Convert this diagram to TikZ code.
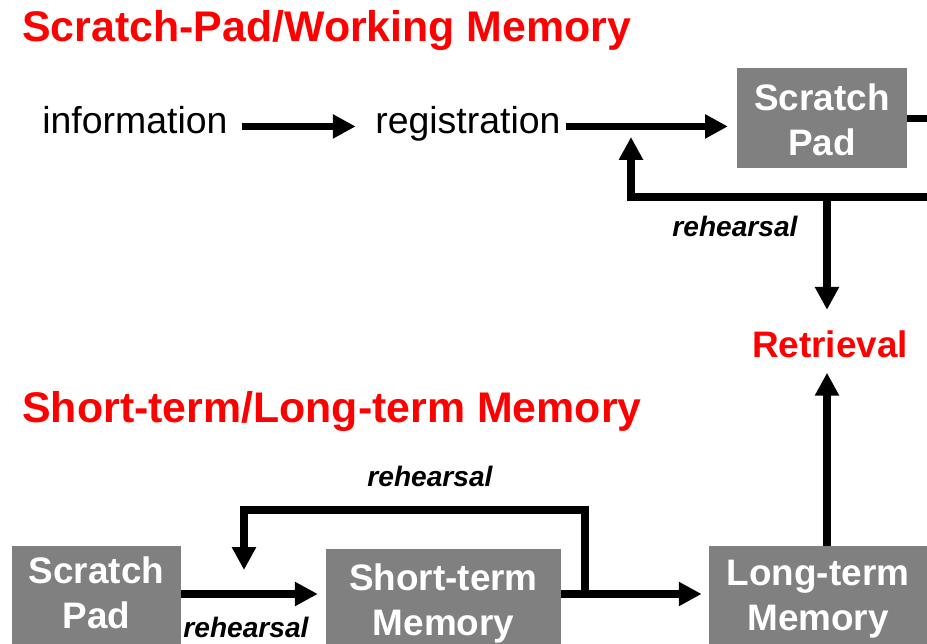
\documentclass[tikz,border=0pt]{standalone}
\usepackage{fontspec}
\setmainfont{Liberation Sans}
\usetikzlibrary{arrows.meta, positioning}

\begin{document}
\begin{tikzpicture}[x=0.02cm, y=-0.02cm,
  flow/.style={line width=4pt, -{Triangle[length=13pt, width=13pt]}},
  wire/.style={line width=4pt},
  membox/.style={fill=boxgray, text=white, inner sep=0pt, align=center,
    font=\fontsize{21}{25.5}\selectfont\bfseries},
  heading/.style={text=titlered, inner sep=0pt, anchor=base west,
    font=\fontsize{24.4}{29}\selectfont\bfseries},
  plain/.style={inner sep=0pt, anchor=base west, text height=15pt, text depth=6.4pt,
    font=\fontsize{21.3}{26}\selectfont},
  note/.style={inner sep=0pt, anchor=base, font=\fontsize{16}{19}\selectfont\bfseries\itshape}]
  % Define colors
  \definecolor{boxgray}{RGB}{128,128,128}
  \definecolor{titlered}{RGB}{255,0,0}

  \useasboundingbox (0,0) rectangle (927,644);
  \clip (0,0) rectangle (927,644);

  % Upper part - Scratch-Pad/Working Memory
  \node[heading] (title1) at (22,42) {Scratch-Pad/Working Memory};
  \node[plain] (info) at (42,134) {information};
  \node[plain] (reg) at (375,134) {registration};
  \node[membox, anchor=north, minimum width=3.4cm, text height=1.74cm, text depth=0.26cm]
    (sp1) at (822,68) {Scratch\\Pad};
  \node[text=titlered, inner sep=0pt, anchor=base, font=\fontsize{21}{25}\selectfont\bfseries]
    (retr) at (830,358) {Retrieval};

  \draw[flow, shorten <=8pt, shorten >=11pt] (info.east) -- (reg.west);
  \draw[flow, shorten <=3pt, shorten >=5pt] (reg.east) -- (reg.east -| sp1.west);
  \draw[wire] (sp1.east) -- ++(40,0);

  % Rehearsal loop back to registration
  \coordinate (fbR) at (960,197);
  \coordinate (fbL) at (631,197);
  \coordinate (fbTip) at (631,137);
  \coordinate (join) at (827,197);
  \draw[flow] (fbR) -- (fbL) -- (fbTip);
  \node[note] (reh1) at (735,237) {rehearsal};
  \draw[flow, shorten >=12pt] (join) -- (join |- retr.north);

  % Lower part - Short-term/Long-term Memory
  \node[heading] (title2) at (22,423) {Short-term/Long-term Memory};
  \node[membox, anchor=north, minimum width=3.38cm, text height=1.64cm, text depth=0.44cm]
    (sp2) at (96.5,546) {Scratch\\Pad};
  \node[membox, anchor=north, minimum width=4.7cm, text height=1.72cm, text depth=0.3cm]
    (st) at (443.5,549) {Short-term\\Memory};
  \node[membox, anchor=north, minimum width=4.36cm, text height=1.68cm, text depth=0.4cm]
    (lt) at (818,546) {Long-term\\Memory};

  \coordinate (row) at (0,594);
  \draw[flow, shorten >=4.5pt] (sp2.east |- row) -- (st.west |- row);
  \draw[flow, shorten >=4pt] (st.east |- row) -- (lt.west |- row);
  \node[note] (reh2) at (246,638) {rehearsal};

  % Rehearsal loop over short-term memory
  \coordinate (lpA) at (585,594);
  \coordinate (lpB) at (585,510);
  \coordinate (lpC) at (244,510);
  \coordinate (lpD) at (244,570);
  \draw[flow] (lpA) -- (lpB) -- (lpC) -- (lpD);
  \node[note] (reh3) at (430,487) {rehearsal};

  % Retrieval from long-term memory
  \draw[flow, shorten >=8pt] (join |- lt.north) -- (join |- retr.south);
\end{tikzpicture}
\end{document}
